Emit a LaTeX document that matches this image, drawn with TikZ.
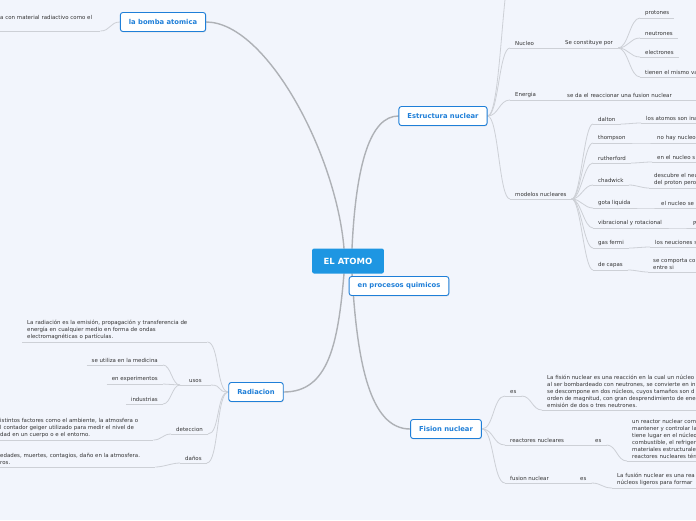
\documentclass[tikz,border=0pt]{standalone}
\usepackage{fontspec}
\setmainfont{DejaVu Sans}
\usetikzlibrary{shadows}
\definecolor{PaperBlue}{HTML}{F2F5FC}
\definecolor{RootBlue}{HTML}{1E96E2}
\definecolor{TopicBlue}{HTML}{1F7FD8}
\definecolor{InkGray}{HTML}{333333}
\definecolor{LinkGray}{HTML}{CDD0D6}
\definecolor{TrunkGray}{HTML}{AEB1B6}
\pgfdeclarelayer{paper}
\pgfdeclarelayer{wires}
\pgfsetlayers{paper,wires,main}

\begin{document}
\begin{tikzpicture}[x=1pt, y=-1pt,
  root/.style={fill=RootBlue, text=white, rounded corners=2pt, font=\fontsize{8.5}{10}\selectfont\bfseries, inner xsep=11.5pt, minimum height=25pt},
  topic/.style={draw=TopicBlue, line width=0.9pt, fill=white, text=TopicBlue, rounded corners=2.5pt, font=\fontsize{6.8}{8}\selectfont\bfseries, inner xsep=8.5pt, minimum height=19pt, drop shadow={shadow xshift=0.4pt, shadow yshift=-0.9pt, opacity=0.25}},
  leaf/.style={font=\fontsize{5.45}{7}\selectfont, text=InkGray, inner xsep=5pt, inner ysep=2pt, anchor=south west},
  leafr/.style={leaf, anchor=south east},
  para/.style={leaf, align=left, text width=#1},
  link/.style={LinkGray, line width=0.8pt},
  trunk/.style={TrunkGray, line width=1.4pt, line cap=round},
]
  \useasboundingbox (0,0) rectangle (696,520);
  \begin{pgfonlayer}{paper}
    \fill[PaperBlue] (0,0) rectangle (696,520);
  \end{pgfonlayer}

  \def\mx{593}  % column of the nuclear models

  % Main topics
  \node[root] (cen) at (348,261) {EL ATOMO};
  \node[topic] (bomba) at (163,22) {la bomba atomica};
  \node[topic] (estr) at (443,116) {Estructura nuclear};
  \node[topic] (proc) at (399,286) {en procesos quimicos};
  \node[topic] (rad) at (256,392) {Radiacion};
  \node[topic] (fis) at (446,429) {Fision nuclear};

  % la bomba atomica
  \node[para=95pt, text depth=9pt] (bomx) at (-5,31) {a con material radiactivo como el};

  % Estructura nuclear
  \coordinate (upper) at (514,-40);
  \node[leaf] (nuc) at (510,48) {Nucleo};
  \node[leaf] (scp) at (560,48) {Se constituye por};
  \node[leaf] (pro) at (640,18) {protones};
  \node[leaf] (neu) at (640,38) {neutrones};
  \node[leaf] (ele) at (640,57) {electrones};
  \node[para=60pt] (tie) at (640,77) {tienen el mismo va};
  \node[leaf] (ene) at (510,100) {Energia};
  \node[para=130pt] (sda) at (562,100) {se da el reaccionar una fusion nuclear};
  \node[leaf] (mod) at (510,199) {modelos nucleares};

  \node[leaf] (dal) at (\mx,124) {dalton};
  \node[leaf] (tho) at (\mx,143) {thompson};
  \node[leaf] (rut) at (\mx,163) {rutherford};
  \node[leaf] (cha) at (\mx,185) {chadwick};
  \node[leaf] (got) at (\mx,208) {gota liquida};
  \node[leaf] (vib) at (\mx,228) {vibracional y rotacional};
  \node[leaf] (gas) at (\mx,248) {gas fermi};
  \node[leaf] (dec) at (\mx,270) {de capas};

  \node[para=60pt] (dalx) at (641,123) {los atomos son ina};
  \node[para=60pt] (thox) at (652,143) {no hay nucleo};
  \node[para=60pt] (rutx) at (652,162) {en el nucleo s};
  \node[para=60pt] (chax) at (649,188) {descubre el neu\\del proton pero};
  \node[para=60pt] (gotx) at (656,208) {el nucleo se};
  \node[para=20pt] (vibx) at (688,228) {P};
  \node[para=60pt] (gasx) at (650,247) {los neuciones s};
  \node[para=60pt] (decx) at (648,272) {se comporta co\\entre si};

  % Radiacion
  \node[para=175pt] (lrad) at (22,342) {La radiación es la emisión, propagación y transferencia de\\energía en cualquier medio en forma de ondas\\electromagnéticas o partículas.};
  \node[leaf, inner xsep=9pt] (usos) at (180,385) {usos};
  \node[leafr] (med) at (163,365) {se utiliza en la medicina};
  \node[leafr] (exp) at (163,384) {en experimentos};
  \node[leafr] (ind) at (163,404) {industrias};
  \node[leaf] (det) at (171,434) {deteccion};
  \node[para=148pt] (detx) at (-5,440) {istintos factores como el ambiente, la atmosfera o\\l contador geiger utilizado para medir el nivel de\\dad en un cuerpo o e el entorno.};
  \node[leaf] (dan) at (180,463) {daños};
  \node[para=150pt] (danx) at (-5,467) {edades, muertes, contagios, daño en la atmosfera.\\ros.};

  % Fision nuclear
  \node[leaf] (fes) at (505,396) {es};
  \node[para=200pt] (lfis) at (542,410) {La fisión nuclear es una reacción en la cual un núcleo\\al ser bombardeado con neutrones, se convierte en in\\se descompone en dos núcleos, cuyos tamaños son d\\orden de magnitud, con gran desprendimiento de ene\\emisión de dos o tres neutrones.};
  \node[leaf] (rea) at (505,445) {reactores nucleares};
  \node[leaf] (res) at (590,445) {es};
  \node[para=100pt] (reax) at (627,461) {un reactor nuclear com\\mantener y controlar la\\tiene lugar en el núcleo\\combustible, el refriger\\materiales estructurales\\reactores nucleares térm};
  \node[leaf] (fus) at (505,483) {fusion nuclear};
  \node[leaf] (fes2) at (575,483) {es};
  \node[para=100pt] (fusx) at (612,488) {La fusión nuclear es una rea\\núcleos ligeros para formar};

  \begin{pgfonlayer}{wires}
    % Trunks from the centre
    \draw[trunk] ([xshift=-4pt]cen.north) .. controls +(-8,-95) and +(60,0) .. (bomba.east);
    \draw[trunk] ([xshift=4pt]cen.north) .. controls +(4,-85) and +(-28,0) .. (estr.west);
    \draw[trunk] ([xshift=-4pt]cen.south) .. controls +(-6,70) and +(45,0) .. (rad.east);
    \draw[trunk] ([xshift=4pt]cen.south) .. controls +(5,90) and +(-40,0) .. (fis.west);

    % Underlines
    \foreach \n in {bomx, nuc, scp, pro, neu, ele, tie, ene, sda, mod, dal, tho, rut, cha, got, vib, gas, dec, dalx, thox, rutx, chax, gotx, vibx, gasx, decx, lrad, usos, med, exp, ind, det, detx, dan, danx, fes, lfis, rea, res, reax, fus, fes2, fusx}
      \draw[link] (\n.south west) -- (\n.south east);

    % Links
    \draw[link] (bomba.west) .. controls +(-10,0) and +(10,0) .. (bomx.south east);

    \draw[link] (estr.east) .. controls +(14,0) and +(-12,0) .. (upper);
    \foreach \c in {nuc, ene, mod}
      \draw[link] (estr.east) .. controls +(11,0) and +(-11,0) .. (\c.south west);
    \draw[link] (nuc.south east) -- (scp.south west);
    \foreach \c in {pro, neu, ele, tie}
      \draw[link] (scp.south east) .. controls +(10,0) and +(-10,0) .. (\c.south west);
    \draw[link] (ene.south east) -- (sda.south west);
    \foreach \c in {dal, tho, rut, cha, got, vib, gas, dec}
      \draw[link] (mod.south east) .. controls +(9,0) and +(-9,0) .. (\c.south west);
    \foreach \m/\d in {dal/dalx, tho/thox, rut/rutx, cha/chax, got/gotx, vib/vibx, gas/gasx, dec/decx}
      \draw[link] (\m.south east) .. controls +(8,0) and +(-8,0) .. (\d.south west);

    \foreach \c in {lrad, usos, det, dan}
      \draw[link] (rad.west) .. controls +(-12,0) and +(12,0) .. (\c.south east);
    \foreach \c in {med, exp, ind}
      \draw[link] (usos.south west) .. controls +(-8,0) and +(8,0) .. (\c.south east);
    \draw[link] (det.south west) .. controls +(-8,0) and +(8,0) .. (detx.south east);
    \draw[link] (dan.south west) .. controls +(-8,0) and +(8,0) .. (danx.south east);

    \foreach \c in {fes, rea, fus}
      \draw[link] (fis.east) .. controls +(12,0) and +(-12,0) .. (\c.south west);
    \draw[link] (fes.south east) .. controls +(10,0) and +(-10,0) .. (lfis.south west);
    \draw[link] (rea.south east) -- (res.south west);
    \draw[link] (res.south east) .. controls +(10,0) and +(-10,0) .. (reax.south west);
    \draw[link] (fus.south east) -- (fes2.south west);
    \draw[link] (fes2.south east) .. controls +(10,0) and +(-10,0) .. (fusx.south west);
  \end{pgfonlayer}
\end{tikzpicture}
\end{document}
